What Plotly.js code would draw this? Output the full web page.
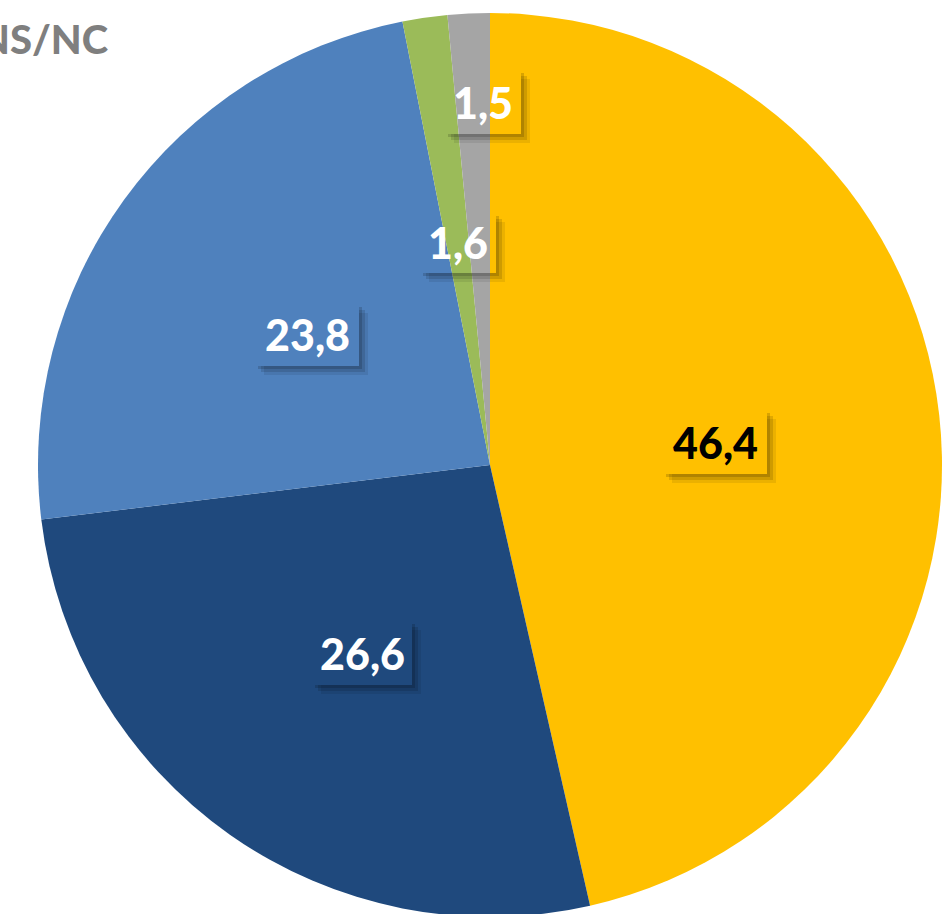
<!DOCTYPE html>
<html>
<head>
<meta charset="utf-8">
<script src="https://cdn.plot.ly/plotly-3.0.1.min.js"></script>
<style>
html,body{margin:0;padding:0;overflow:hidden;background:#fff;}
#chart{width:942px;height:917px;}
</style>
</head>
<body>
<div id="chart"></div>
<script>
// Data
const categories = ["Sí", "No", "Ns", "Otros", "NS/NC"];
const values = [46.4, 26.6, 23.8, 1.6, 1.5];
const valueLabels = ["46,4", "26,6", "23,8", "1,6", "1,5"];
const colors = ["#FFC000", "#1F497D", "#4F81BD", "#9BBB59", "#A5A5A5"];
const labelColors = ["#000000", "#FFFFFF", "#FFFFFF", "#FFFFFF", "#FFFFFF"];

const W = 942, H = 917;
const px = x => x / W;
const py = y => 1 - y / H;

// label centres (pixels) and box half-sizes
const labelPos = [[715, 442], [362, 653], [307, 335], [458, 243], [483, 102]];
const boxHalf = [[52, 32], [50, 32], [52, 31], [38, 30], [38, 32]];

const shapes = [];
const annotations = [];
labelPos.forEach((p, i) => {
  const [cx, cy] = p;
  const [hw, hh] = boxHalf[i];
  const x0 = cx - hw, x1 = cx + hw, y0 = cy - hh, y1 = cy + hh;
  // soft shadow layers (right and bottom edges)
  [[9, 0.08], [6, 0.12], [3, 0.15]].forEach(([o, a]) => {
    shapes.push({type: "rect", xref: "paper", yref: "paper", layer: "above",
      x0: px(x1), x1: px(x1 + o), y0: py(y1 + o), y1: py(y0 + o),
      fillcolor: "rgba(0,0,0," + a + ")", line: {width: 0}});
    shapes.push({type: "rect", xref: "paper", yref: "paper", layer: "above",
      x0: px(x0 + o), x1: px(x1), y0: py(y1 + o), y1: py(y1),
      fillcolor: "rgba(0,0,0," + a + ")", line: {width: 0}});
  });
  annotations.push({
    xref: "paper", yref: "paper", x: px(cx), y: py(cy),
    xanchor: "center", yanchor: "middle", showarrow: false,
    text: valueLabels[i],
    font: {family: "Lato, 'Open Sans', sans-serif", size: 43, weight: 900, color: labelColors[i]}
  });
});

annotations.push({
  xref: "paper", yref: "paper", x: px(111), y: py(39),
  xanchor: "right", yanchor: "middle", showarrow: false,
  text: "NS/NC",
  font: {family: "Lato, 'Open Sans', sans-serif", size: 40, weight: 900, color: "#7F7F7F"}
});

const trace = {
  type: "pie",
  labels: categories,
  values: values,
  sort: false,
  direction: "clockwise",
  rotation: 0,
  textinfo: "none",
  hoverinfo: "label+value",
  marker: {colors: colors, line: {width: 0}},
  domain: {x: [38 / W, 1], y: [0, 1 - 13 / H]},
  showlegend: false
};

Plotly.newPlot("chart", [trace], {
  width: W, height: H,
  margin: {l: 0, r: 0, t: 0, b: 0},
  paper_bgcolor: "#FFFFFF",
  showlegend: false,
  shapes: shapes,
  annotations: annotations
}, {displayModeBar: false, staticPlot: true});
</script>
</body>
</html>
